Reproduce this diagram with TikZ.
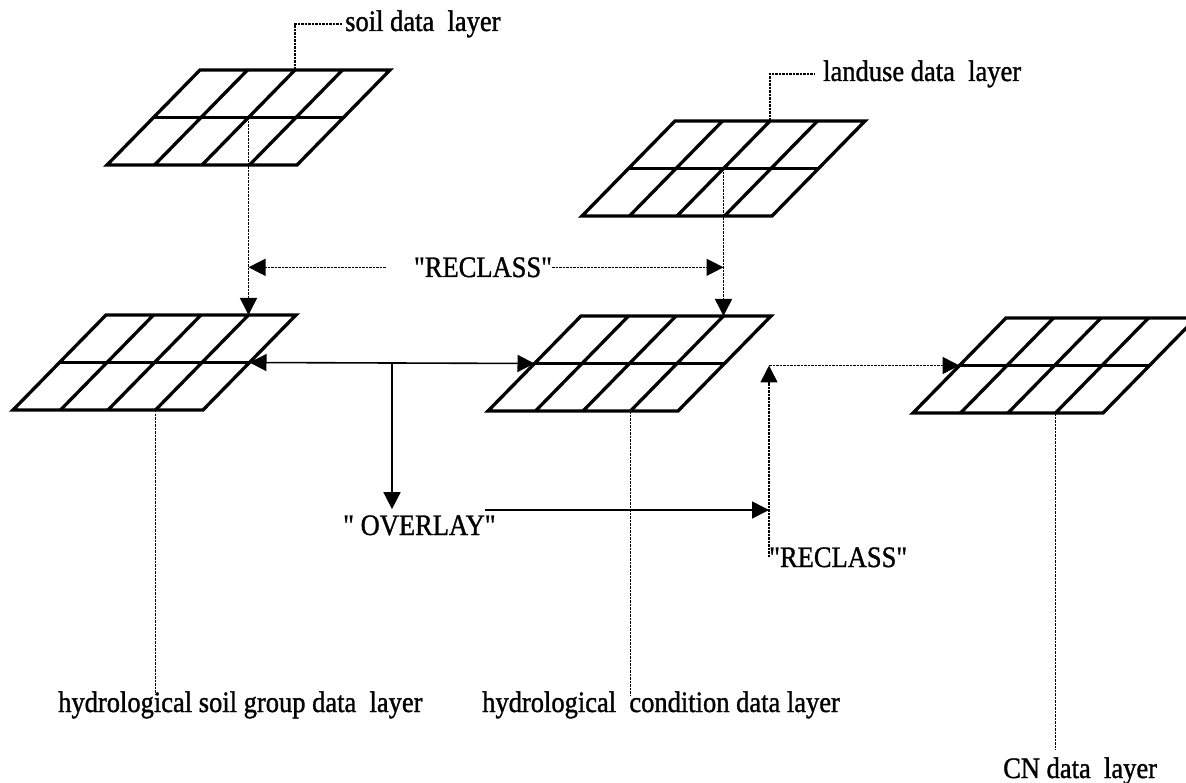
\documentclass[tikz,border=0pt]{standalone}
\usepackage{graphicx}
\usepackage{fontspec}
% plain family: keeps the straight " quote characters as typed
\newfontfamily\capfont{Liberation Serif}[FakeBold=1.2]
\newcommand{\captext}[1]{\scalebox{1}[1.12]{#1}}
\usetikzlibrary{arrows.meta,calc}

\tikzset{
  cell/.style={line width=3.3pt, line join=miter},
  leader/.style={line width=1.5pt, dash pattern=on 2.5pt off 1pt},
  tip/.style={-{Triangle[length=17pt,width=17pt]}},
  twotips/.style={{Triangle[length=17pt,width=17pt]}-{Triangle[length=17pt,width=17pt]}},
  flow/.style={line width=1.6pt},
  caption/.style={inner sep=0pt, font=\capfont\fontsize{26.5}{31}\selectfont},
}

% A raster layer: 4 x 2 cells on a slanted sheet.
% #1 name, #2 x of the lower left corner, #3 y of the lower edge.
% Named points: #1-b1..b5 (lower edge), #1-m1..m5 (middle), #1-t1..t5 (upper edge).
\newcommand{\datalayer}[3]{%
  \foreach \i in {1,...,5}{
    \coordinate (#1-b\i) at ({#2+(\i-1)*47.5},{#3});
    \coordinate (#1-m\i) at ({#2+46.5+(\i-1)*47.5},{#3-47.5});
    \coordinate (#1-t\i) at ({#2+93+(\i-1)*47.5},{#3-95});
  }
  \draw[cell] (#1-b1) -- (#1-b5) -- (#1-t5) -- (#1-t1) -- cycle;
  \draw[cell] (#1-m1) -- (#1-m5);
  \foreach \i in {2,3,4}{\draw[cell] (#1-b\i) -- (#1-t\i);}
}

\begin{document}
\begin{tikzpicture}[x=1pt,y=-1pt]
\useasboundingbox (0,0) rectangle (1186,783);
\clip (0,0) rectangle (1186,783);

% layers
\datalayer{soil}{107}{165}
\datalayer{land}{582}{216}
\datalayer{hsoil}{13}{410}
\datalayer{hcond}{488}{411}
\datalayer{cn}{913}{413}

% captions
\node[caption, anchor=base west] (soiltxt) at (345,31) {\captext{soil data~ layer}};
\node[caption, anchor=base west] (landtxt) at (823,81) {\captext{landuse data~ layer}};
\node[caption, anchor=base] (recl1) at (483,277) {\captext{"RECLASS"}};
\node[caption, anchor=base west] (overlay) at (343,535) {\captext{" OVERLAY"}};
\node[caption, anchor=base west] (recl2) at (769,567) {\captext{"RECLASS"}};
\node[caption, anchor=base west] (hsgtxt) at (58,712) {\captext{hydrological soil group data~ layer}};
\node[caption, anchor=base west] (hcdtxt) at (482,712) {\captext{hydrological~ condition data layer}};
\node[caption, anchor=base west] (cntxt) at (1003,778) {\captext{CN data~ layer}};

% leaders to the input layer captions
\draw[leader] (soil-t3) |- ([xshift=-2pt]soiltxt.west);
\draw[leader] (land-t3) |- ([xshift=-8pt]landtxt.west);

% reclassification of the input layers
\draw[leader, tip] (soil-m3) -- (hsoil-t4);
\draw[leader, tip] (land-m3) -- (hcond-t4);
\draw[leader, tip] ([xshift=-28pt]recl1.west) -- (recl1.west -| soil-m3);
\draw[leader, tip] (recl1.east) -- (recl1.east -| land-m3);

% overlay of the two derived layers
\draw[flow, twotips] (hsoil-m5) -- (hcond-m1);
\coordinate (ovj) at ($(hsoil-m5)!0.5!(hcond-m1)$);
\draw[flow, tip, shorten >=6pt] (ovj) -- (ovj |- overlay.north);
\coordinate (ovs) at (485,510);
\draw[flow, tip] (ovs) -- (ovs -| recl2.west);

% reclassification into the CN layer
\coordinate (rtop) at (cn-m1 -| recl2.west);
\draw[leader, tip] (recl2.west) -- (rtop);
\draw[leader, tip] (rtop) -- (cn-m1);

% leaders to the output layer captions
\draw[leader, shorten >=-4pt] (hsoil-b4) -- (hsoil-b4 |- hsgtxt.north);
\draw[leader, shorten >=-4pt] (hcond-b4) -- (hcond-b4 |- hcdtxt.north);
\draw[leader, shorten >=8pt] (cn-b4) -- (cn-b4 |- cntxt.north);
\end{tikzpicture}
\end{document}
